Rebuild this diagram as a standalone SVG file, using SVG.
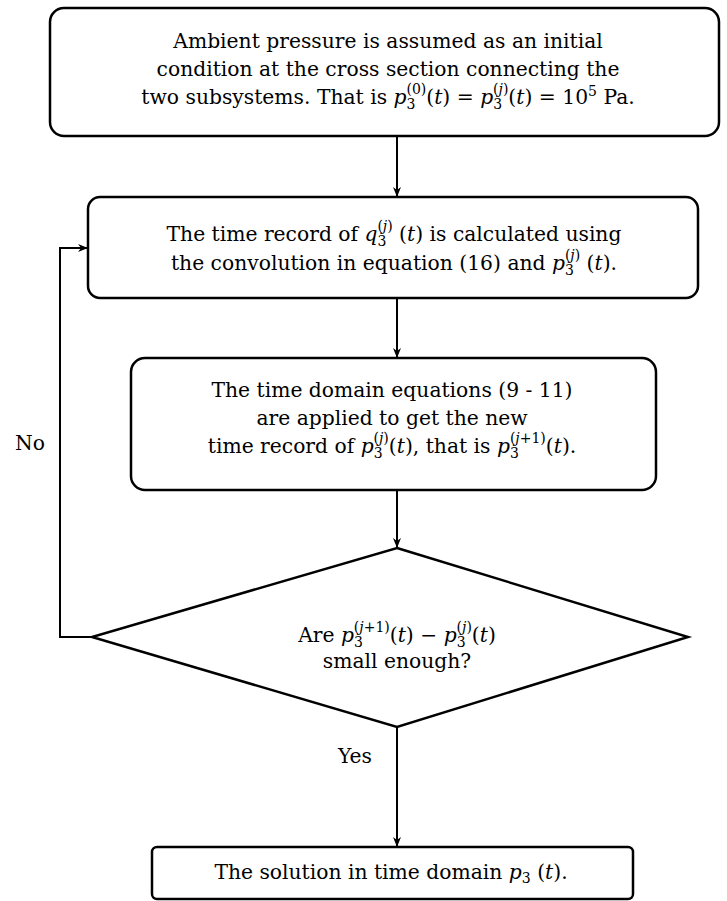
<svg xmlns="http://www.w3.org/2000/svg" width="727" height="901" viewBox="0 0 727 901">
<style>
.box{fill:#fff;stroke:#000;stroke-width:2.5}
.t{font-family:"DejaVu Serif","Liberation Serif",serif;font-size:20.3px;fill:#000;text-anchor:middle}
.i{font-style:italic}
.s{font-size:14px}
.c{fill:none;stroke:#000;stroke-width:2}
</style>
<defs>
<marker id="ah" markerWidth="10" markerHeight="8" refX="9" refY="4" orient="auto" markerUnits="userSpaceOnUse">
<path d="M0,0 L10,4 L0,8 L3,4 z" fill="#000"/>
</marker>
</defs>
<rect width="727" height="901" fill="#fff"/>
<g id="connectors">
<line class="c" x1="397" y1="137" x2="397" y2="196" marker-end="url(#ah)"/>
<line class="c" x1="397" y1="299" x2="397" y2="357" marker-end="url(#ah)"/>
<line class="c" x1="397" y1="491" x2="397" y2="547" marker-end="url(#ah)"/>
<line class="c" x1="397" y1="727" x2="397" y2="846" marker-end="url(#ah)"/>
<polyline class="c" points="92,637 60,637 60,248 87,248" marker-end="url(#ah)"/>
<text class="t" x="30" y="450">No</text>
<text class="t" x="355" y="763">Yes</text>
</g>
<g id="init">
<rect class="box" x="50" y="8" width="669" height="128" rx="14"/>
<text class="t" x="388" y="48">Ambient pressure is assumed as an initial</text>
<text class="t" x="388" y="76">condition at the cross section connecting the</text>
<text class="t" x="388" y="104">two subsystems. That is <tspan class="i">p</tspan><tspan class="s" dy="5">3</tspan><tspan class="s" dx="-9" dy="-15">(0)</tspan><tspan dy="10">(</tspan><tspan class="i">t</tspan>) = <tspan class="i">p</tspan><tspan class="s" dy="5">3</tspan><tspan class="s" dx="-9" dy="-15">(<tspan class="i">j</tspan>)</tspan><tspan dy="10">(</tspan><tspan class="i">t</tspan>) = 10<tspan class="s" dy="-8">5</tspan><tspan dy="8"> Pa.</tspan></text>
</g>
<g id="convolution">
<rect class="box" x="88" y="197" width="610" height="101" rx="12"/>
<text class="t" x="394" y="241">The time record of <tspan class="i">q</tspan><tspan class="s" dy="5">3</tspan><tspan class="s" dx="-9" dy="-15">(<tspan class="i">j</tspan>)</tspan><tspan dy="10"> (</tspan><tspan class="i">t</tspan>) is calculated using</text>
<text class="t" x="394" y="270">the convolution in equation (16) and <tspan class="i">p</tspan><tspan class="s" dy="5">3</tspan><tspan class="s" dx="-9" dy="-15">(<tspan class="i">j</tspan>)</tspan><tspan dy="10"> (</tspan><tspan class="i">t</tspan>).</text>
</g>
<g id="timedomain">
<rect class="box" x="131" y="358" width="525" height="132" rx="14"/>
<text class="t" x="392" y="397">The time domain equations (9 - 11)</text>
<text class="t" x="392" y="425">are applied to get the new</text>
<text class="t" x="392" y="453">time record of <tspan class="i">p</tspan><tspan class="s" dy="5">3</tspan><tspan class="s" dx="-9" dy="-15">(<tspan class="i">j</tspan>)</tspan><tspan dy="10">(</tspan><tspan class="i">t</tspan>), that is <tspan class="i">p</tspan><tspan class="s" dy="5">3</tspan><tspan class="s" dx="-9" dy="-15">(<tspan class="i">j</tspan>+1)</tspan><tspan dy="10">(</tspan><tspan class="i">t</tspan>).</text>
</g>
<g id="decision">
<polygon class="box" points="397,548 688,637 397,727 92,637"/>
<text class="t" x="397" y="642">Are <tspan class="i">p</tspan><tspan class="s" dy="5">3</tspan><tspan class="s" dx="-9" dy="-15">(<tspan class="i">j</tspan>+1)</tspan><tspan dy="10">(</tspan><tspan class="i">t</tspan>) − <tspan class="i">p</tspan><tspan class="s" dy="5">3</tspan><tspan class="s" dx="-9" dy="-15">(<tspan class="i">j</tspan>)</tspan><tspan dy="10">(</tspan><tspan class="i">t</tspan>)</text>
<text class="t" x="397" y="668">small enough?</text>
</g>
<g id="solution">
<rect class="box" x="152" y="847" width="481" height="52" rx="5"/>
<text class="t" x="391" y="879">The solution in time domain <tspan class="i">p</tspan><tspan class="s" dy="4">3</tspan><tspan dy="-4"> (</tspan><tspan class="i">t</tspan>).</text>
</g>
</svg>
